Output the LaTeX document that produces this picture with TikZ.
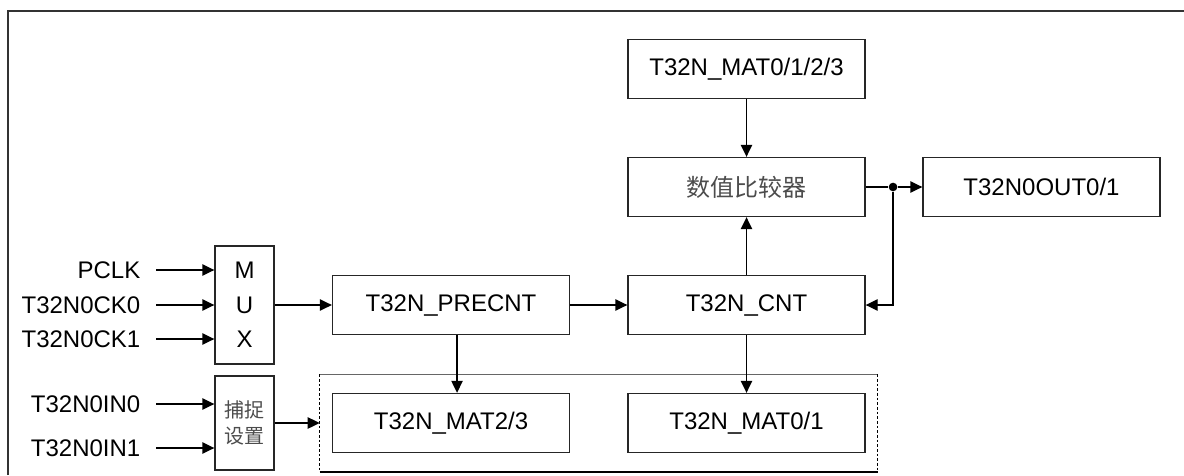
\documentclass[tikz,border=0pt]{standalone}
\usepackage{fontspec}
\setmainfont{Liberation Sans}
\newfontfamily\cjk{Noto Sans CJK SC}
\usetikzlibrary{arrows.meta,positioning,fit}

\begin{document}
\begin{tikzpicture}[x=0.75pt,y=-0.75pt,->,>={Triangle[length=9pt,width=8.5pt]},line width=1pt,auto,node distance=88.5pt,font=\fontsize{18}{22}\selectfont,
    block/.style = {draw=black!85,rectangle,align=center,minimum width=177.75pt,minimum height=44.25pt,inner sep=0pt},
    narrow/.style = {draw=black!85,rectangle,align=center,minimum width=44.25pt,inner sep=0pt},
    sig/.style = {anchor=east,inner xsep=11.25pt,inner ysep=0pt},
    jdot/.style = {circle,fill,inner sep=0pt,minimum size=6.5pt}]
            \useasboundingbox (0,0) rectangle (1184,475);
            \draw[-,line width=1.2pt,black!80] (8,475) |- (1184,11);
            \node[narrow,minimum height=88.5pt,font=\fontsize{18}{26}\selectfont](mux) at (244.5,305) {M\\U\\X};
            \node[narrow,below of=mux,minimum height=70.5pt,font=\cjk\fontsize{15}{20}\selectfont,text=black!70](cap){捕捉\\设置};
            \node[block,right of=mux,node distance=154.9pt](precnt){T32N\_PRECNT};
            \node[block,right of=precnt,node distance=221.6pt](cnt){T32N\_CNT};
            \node[block,above of=cnt](cmp){\cjk\color{black!70}数值比较器};
            \node[block,above of=cmp](mat){T32N\_MAT0/1/2/3};
            \node[block,right of=cmp,node distance=221.25pt](out){T32N0OUT0/1};
            \node[jdot,right of=cmp,node distance=109.9pt](jn){};
            \node[block,below of=precnt](mat23){T32N\_MAT2/3};
            \node[block,below of=cnt](mat01){T32N\_MAT0/1};
            \node[fit=(mat23)(mat01),inner xsep=8.6pt,inner ysep=13.5pt](grp){};
            \node[sig](pclk) at (156,270) {PCLK};
            \node[sig](ck0) at (156,305) {T32N0CK0};
            \node[sig](ck1) at (156,339) {T32N0CK1};
            \node[sig](in0) at (156,404) {T32N0IN0};
            \node[sig](in1) at (156,448) {T32N0IN1};
            \draw[-,black!60,line width=0.7pt] (grp.north west) -- (grp.north east);
            \draw[-] (grp.south west) -- (grp.south east);
            \draw[-,line width=0.7pt,dash pattern=on 2pt off 1.5pt] (grp.north west) -- (grp.south west) (grp.north east) -- (grp.south east);
            \path (pclk) edge (pclk -| mux.west)
                        (ck0) edge (ck0 -| mux.west)
                        (ck1) edge (ck1 -| mux.west)
                        (in0) edge (in0 -| cap.west)
                        (in1) edge (in1 -| cap.west)
                        (mux) edge (precnt)
                        (cap) edge (grp)
                        (precnt) edge (cnt)
                        ([xshift=4.5pt]precnt.south) edge ([xshift=4.5pt]mat23.north)
                        (cnt) edge (mat01)
                        (cnt) edge (cmp)
                        (mat) edge (cmp)
                        (jn) edge (out);
            \draw[-] (cmp) -- (jn);
            \draw (jn) |- (cnt);
    \end{tikzpicture}
\end{document}
